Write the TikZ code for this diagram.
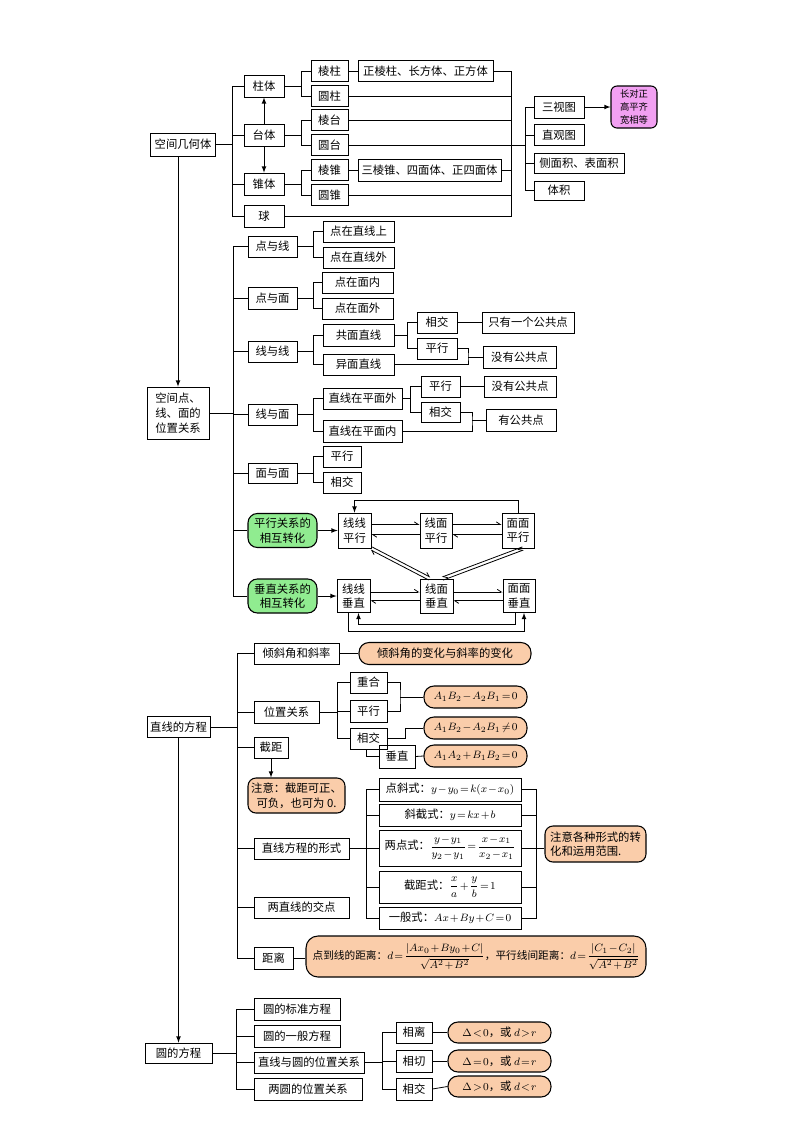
\documentclass[tikz,border=0pt]{standalone}
\usepackage{amsmath}
\usepackage{fontspec}
\setmainfont{Noto Sans CJK SC}
\usetikzlibrary{arrows,arrows.meta,calc}
\definecolor{peach}{RGB}{250,205,170}
\definecolor{mint}{RGB}{144,236,144}
\definecolor{orchid}{RGB}{242,160,242}
\newdimen\ux \ux=0.75pt
\medmuskip=1.5mu plus 1mu minus 1mu
\thickmuskip=2mu plus 1mu
\tikzset{
  cell/.style  = {shape=rectangle, draw, line width=0.6pt, inner sep=1pt,
                  minimum height=21\ux, align=center,
                  font=\fontsize{8.5}{11}\selectfont},
  note/.style  = {cell, rounded corners=6pt, fill=peach, line width=0.8pt},
  oval/.style  = {note, rounded corners=7.5pt},
  trans/.style = {cell, rounded corners=7pt, fill=mint, line width=0.8pt},
  tipbox/.style= {cell, rounded corners=4.5pt, fill=orchid, line width=0.8pt,
                  font=\fontsize{7}{9.5}\selectfont},
  harp/.style  = {-{Straight Barb[harpoon,length=3pt,width=4pt]}},
}

\begin{document}
\begin{tikzpicture}[x=0.75pt, y=-0.75pt, line width=0.6pt]
\useasboundingbox (0,0) rectangle (800,1133);

% 空间几何体
\node[cell, minimum width=65\ux, minimum height=23\ux] (kj) at (183,144.5) {空间几何体};
\node[cell, minimum width=40\ux, minimum height=22\ux] (zhu) at (264,86) {柱体};
\node[cell, minimum width=40\ux, minimum height=22\ux] (tai) at (264,135) {台体};
\node[cell, minimum width=40\ux, minimum height=22\ux] (zhui) at (264,184) {锥体};
\node[cell, minimum width=40\ux, minimum height=22\ux] (qiu) at (264,216) {球};
\node[cell, minimum width=37\ux] (lz) at (329.5,71) {棱柱};
\node[cell, minimum width=37\ux] (yz) at (329.5,96) {圆柱};
\node[cell, minimum width=37\ux] (lt) at (329.5,120) {棱台};
\node[cell, minimum width=37\ux] (yt) at (329.5,145) {圆台};
\node[cell, minimum width=37\ux] (lzh) at (329.5,170) {棱锥};
\node[cell, minimum width=37\ux] (yzh) at (329.5,195) {圆锥};
\node[cell, minimum width=135\ux] (zlz) at (425.5,71) {正棱柱、长方体、正方体};
\node[cell, minimum width=143\ux, minimum height=22\ux] (slz) at (429.5,170) {三棱锥、四面体、正四面体};
\node[cell, minimum width=50\ux, minimum height=22\ux] (ssv) at (559,107) {三视图};
\node[cell, minimum width=50\ux] (zgt) at (559,135) {直观图};
\node[cell, minimum width=90\ux, minimum height=20\ux] (cmj) at (579,163) {侧面积、表面积};
\node[cell, minimum width=50\ux, minimum height=19\ux] (tj) at (559,190.5) {体积};
\node[tipbox, minimum width=46\ux, minimum height=42\ux] (sst) at (634,107) {长对正\\高平齐\\宽相等};

\draw (kj.east) -- ++(16.5,0) coordinate (b1);
\draw (zhu.west) -| (b1) |- (qiu.west);
\foreach \n in {tai,zhui} \draw (\n.west) -- (\n.west -| b1);
\draw (zhu.east) -- ++(17,0) coordinate (b2);
\draw (lz.west) -| (b2) |- (yz.west);
\draw (tai.east) -- ++(17,0) coordinate (b3);
\draw (lt.west) -| (b3) |- (yt.west);
\draw (zhui.east) -- ++(17,0) coordinate (b4);
\draw (lzh.west) -| (b4) |- (yzh.west);
\draw (lz.east) -- (lz.east -| zlz.west);
\draw (lzh.east) -- (lzh.east -| slz.west);
\coordinate (rb) at (511,0);
\draw (zlz.east) -| (rb |- qiu.east) -- (qiu.east);
\foreach \n in {yz,lt,slz,yzh} \draw (\n.east) -- (\n.east -| rb);
\coordinate (sb) at (525,0);
\draw (yt.east) -- (yt.east -| sb);
\draw (ssv.west) -| (sb |- tj.west) -- (tj.west);
\foreach \n in {zgt,cmj} \draw (\n.west) -- (\n.west -| sb);
\draw[-latex] (ssv) -- (sst);
\draw[-latex] (tai) -- (zhu);
\draw[-latex] (tai) -- (zhui);

% 空间点、线、面的位置关系
\node[cell, minimum width=62\ux, minimum height=52\ux, align=left] (kd) at (178,413) {空间点、\\线、面的\\位置关系};
\draw[-latex] (kj.south -| kd.north) -- (kd.north);
\node[cell, minimum width=49\ux] (dyx) at (272.5,246.5) {点与线};
\node[cell, minimum width=49\ux, minimum height=22\ux] (dym) at (272.5,298) {点与面};
\node[cell, minimum width=49\ux] (xyx) at (272.5,351.5) {线与线};
\node[cell, minimum width=49\ux] (xym) at (272.5,414.5) {线与面};
\node[cell, minimum width=49\ux, minimum height=20\ux] (mym) at (272.5,473) {面与面};
\node[trans, minimum width=69\ux, minimum height=34\ux] (pxzh) at (282.5,530.5) {平行关系的\\相互转化};
\node[trans, minimum width=69\ux, minimum height=34\ux] (czzh) at (282.5,596) {垂直关系的\\相互转化};

\node[cell, minimum width=71\ux] (dzs) at (358.5,231.5) {点在直线上};
\node[cell, minimum width=71\ux] (dzw) at (358.5,257.5) {点在直线外};
\node[cell, minimum width=71\ux] (dmn) at (357.5,282.5) {点在面内};
\node[cell, minimum width=71\ux] (dmw) at (357.5,308.5) {点在面外};
\node[cell, minimum width=71\ux, minimum height=22\ux] (gmzx) at (358.5,335) {共面直线};
\node[cell, minimum width=71\ux] (ymzx) at (358.5,364.5) {异面直线};
\node[cell, minimum width=79\ux] (zxw) at (362.5,398.5) {直线在平面外};
\node[cell, minimum width=79\ux, minimum height=22\ux] (zxn) at (362.5,431) {直线在平面内};
\node[cell, minimum width=38\ux] (mpx) at (342,456.5) {平行};
\node[cell, minimum width=38\ux] (mxj) at (342,482.5) {相交};

\node[cell, minimum width=40\ux] (gxj) at (437,322.5) {相交};
\node[cell, minimum width=40\ux] (gpx) at (437,348.5) {平行};
\node[cell, minimum width=92\ux] (yg1) at (528,322.5) {只有一个公共点};
\node[cell, minimum width=73\ux, minimum height=22\ux] (mg1) at (519.5,357) {没有公共点};
\node[cell, minimum width=39\ux] (wpx) at (440.5,386.5) {平行};
\node[cell, minimum width=39\ux, minimum height=20\ux] (wxj) at (440.5,412) {相交};
\node[cell, minimum width=72\ux] (mg2) at (520,386.5) {没有公共点};
\node[cell, minimum width=70\ux, minimum height=22\ux] (ygg) at (521,420) {有公共点};

\draw (kd.east) -- ++(24,0) coordinate (b5);
\draw (dyx.west) -| (b5) |- (czzh.west);
\foreach \n in {dym,xyx,xym,mym,pxzh} \draw (\n.west) -- (\n.west -| b5);
\draw (dyx.east) -- ++(16,0) coordinate (b6);
\draw (dzs.west) -| (b6) |- (dzw.west);
\draw (dym.east) -- ++(16,0) coordinate (b7);
\draw (dmn.west) -| (b7) |- (dmw.west);
\draw (xyx.east) -- ++(16,0) coordinate (b8);
\draw (gmzx.west) -| (b8) |- (ymzx.west);
\draw (xym.east) -- ++(16,0) coordinate (b9);
\draw (zxw.west) -| (b9) |- (zxn.west);
\draw (mym.east) -- ++(16,0) coordinate (b10);
\draw (mpx.west) -| (b10) |- (mxj.west);
\draw (gmzx.east) -- ++(13,0) coordinate (b11);
\draw (gxj.west) -| (b11) |- (gpx.west);
\draw (zxw.east) -- ++(8,0) coordinate (b12);
\draw (wpx.west) -| (b12) |- (wxj.west);
\draw (gxj.east) -- (gxj.east -| yg1.west);
\coordinate (m1) at (468,357);
\draw (gpx.east) -| (m1) |- (ymzx.east);
\draw (m1) -- (m1 -| mg1.west);
\draw (wpx.east) -- (wpx.east -| mg2.west);
\coordinate (m2) at (472,420);
\draw (wxj.east) -| (m2) |- (zxn.east);
\draw (m2) -- (m2 -| ygg.west);

% 平行、垂直的相互转化
\node[cell, minimum width=33\ux, minimum height=35\ux] (xxpx) at (354.5,530.5) {线线\\平行};
\node[cell, minimum width=32\ux, minimum height=35\ux] (xmpx) at (436,530.5) {线面\\平行};
\node[cell, minimum width=32\ux, minimum height=35\ux] (mmpx) at (518,530.5) {面面\\平行};
\node[cell, minimum width=33\ux, minimum height=33\ux] (xxcz) at (353.5,596) {线线\\垂直};
\node[cell, minimum width=33\ux, minimum height=34\ux] (xmcz) at (436.5,596) {线面\\垂直};
\node[cell, minimum width=32\ux, minimum height=33\ux] (mmcz) at (519,596) {面面\\垂直};

\draw[-latex] (pxzh) -- (xxpx);
\draw[-latex] (czzh) -- (xxcz);
\draw[harp] ([yshift=4.5pt]xxpx.east) -- ([yshift=4.5pt]xmpx.west);
\draw[harp] ([yshift=-3pt]xmpx.west) -- ([yshift=-3pt]xxpx.east);
\draw[harp] ([yshift=4.5pt]xmpx.east) -- ([yshift=4.5pt]mmpx.west);
\draw[harp] ([yshift=-3pt]mmpx.west) -- ([yshift=-3pt]xmpx.east);
\draw[harp] ([yshift=3pt]xxcz.east) -- ([yshift=3pt]xmcz.west);
\draw[harp] ([yshift=-3.5pt]xmcz.west) -- ([yshift=-3.5pt]xxcz.east);
\draw[harp] ([yshift=3pt]xmcz.east) -- ([yshift=3pt]mmcz.west);
\draw[harp] ([yshift=-3.5pt]mmcz.west) -- ([yshift=-3.5pt]xmcz.east);
\coordinate (d1) at ([xshift=-7\ux]xmcz.north);
\coordinate (d2) at ([xshift=6\ux]xmcz.north);
\coordinate (d3) at ([xshift=5\ux]mmpx.south);
\draw[harp] ([shift={(0.8,-1.4)}]xxpx.south east) -- ([shift={(0.8,-1.4)}]d1);
\draw[harp] ([shift={(-0.8,1.4)}]d1) -- ([shift={(-0.8,1.4)}]xxpx.south east);
\draw[harp] ([shift={(-0.6,-1.5)}]d3) -- ([shift={(-0.6,-1.5)}]d2);
\draw[harp] ([shift={(0.6,1.5)}]d2) -- ([shift={(0.6,1.5)}]d3);
\draw[-latex] (mmpx.north) -- ++(0,-12) -| (xxpx.north);
\draw[-latex] ([xshift=-4\ux]mmcz.south) -- ++(0,11) -| ([xshift=5\ux]xxcz.south);
\draw[-latex] ([xshift=-5\ux]xxcz.south) -- ++(0,18) -| ([xshift=5\ux]mmcz.south);

% 直线的方程
\node[cell, minimum width=63\ux] (zxfc) at (178.5,727) {直线的方程};
\node[cell, minimum width=85\ux] (qxj) at (296.5,653.5) {倾斜角和斜率};
\node[cell, minimum width=65\ux, minimum height=22\ux] (wzgx) at (286.5,712) {位置关系};
\node[cell, minimum width=34\ux] (jj) at (271,747.5) {截距};
\node[note, minimum width=97\ux, minimum height=35\ux] (zy) at (296.5,795.5) {注意：截距可正、\\可负，也可为 0.};
\node[cell, minimum width=95\ux] (xs) at (301.5,848.5) {直线方程的形式};
\node[cell, minimum width=95\ux] (jd) at (301.5,907.5) {两直线的交点};
\node[cell, minimum width=39\ux, minimum height=22\ux] (jl) at (273.5,958) {距离};
\node[note, rounded corners=9pt, minimum width=340\ux, minimum height=41\ux, font=\fontsize{8}{10}\selectfont] (jlgs) at (476,956.5)
  {点到线的距离：$d=\dfrac{|Ax_0+By_0+C|}{\sqrt{A^2+B^2}}$，平行线间距离：$d=\dfrac{|C_1-C_2|}{\sqrt{A^2+B^2}}$};
\node[oval, minimum width=172\ux, minimum height=22\ux] (bh) at (445,653.5) {倾斜角的变化与斜率的变化};

\node[cell, minimum width=37\ux] (ch) at (368.5,682.5) {重合};
\node[cell, minimum width=37\ux, minimum height=22\ux] (wpx2) at (368.5,711) {平行};
\node[cell, minimum width=37\ux] (wxj2) at (368.5,738.5) {相交};
\node[cell, minimum width=36\ux, minimum height=23\ux] (cz) at (397,756.5) {垂直};
\node[oval, minimum width=103\ux, minimum height=22\ux] (eq1) at (475.5,697) {$A_1B_2-A_2B_1=0$};
\node[oval, minimum width=103\ux, minimum height=22\ux] (eq2) at (475.5,728) {$A_1B_2-A_2B_1\neq0$};
\node[oval, minimum width=103\ux, minimum height=22\ux] (eq3) at (475.5,756) {$A_1A_2+B_1B_2=0$};

\node[cell, minimum width=142\ux, minimum height=23\ux] (dxs) at (450,789.5) {点斜式：$y-y_0=k(x-x_0)$};
\node[cell, minimum width=142\ux, minimum height=22\ux] (xjs) at (450,815) {斜截式：$y=kx+b$};
\node[cell, minimum width=142\ux, minimum height=36\ux] (ldsh) at (450,848) {两点式：$\dfrac{y-y_1}{y_2-y_1}=\dfrac{x-x_1}{x_2-x_1}$};
\node[cell, minimum width=142\ux, minimum height=32\ux] (jjs) at (450,887) {截距式：$\dfrac{x}{a}+\dfrac{y}{b}=1$};
\node[cell, minimum width=142\ux, minimum height=22\ux] (ybs) at (450,918) {一般式：$Ax+By+C=0$};
\node[note, minimum width=101\ux, minimum height=36\ux, align=left] (zyg) at (595.5,844) {注意各种形式的转\\化和运用范围.};

\draw (zxfc.east) -- ++(26.5,0) coordinate (b13);
\draw (qxj.west) -| (b13) |- (jl.west);
\foreach \n in {wzgx,jj,xs,jd} \draw (\n.west) -- (\n.west -| b13);
\draw[-latex] (jj) -- (jj |- zy.north);
\draw (qxj.east) -- (qxj.east -| bh.west);
\draw (jl.east) -- (jl.east -| jlgs.west);
\draw (wzgx.east) -- ++(18,0) coordinate (b14);
\draw (ch.west) -| (b14) |- (wxj2.west);
\draw (wpx2.west) -- (wpx2.west -| b14);
\coordinate (m3) at (400,697);
\draw (ch.east) -| (m3) |- (wpx2.east);
\draw (m3) -- (m3 -| eq1.west);
\draw (wxj2.east) -- ++(18,0) |- (eq2.west);
\draw ([xshift=-2\ux]wxj2.south) |- (cz.west);
\draw (cz.east) -- (eq3.west);
\draw (xs.east) -- ++(17,0) coordinate (b15);
\draw (dxs.west) -| (b15) |- (ybs.west);
\foreach \n in {xjs,ldsh,jjs} \draw (\n.west) -- (\n.west -| b15);
\coordinate (b16) at (536,0);
\draw (dxs.east) -| (b16 |- ybs.east) -- (ybs.east);
\foreach \n in {xjs,jjs} \draw (\n.east) -- (\n.east -| b16);
\draw (ldsh.east) -- (ldsh.east -| zyg.west);

% 圆的方程
\node[cell, minimum width=67\ux, minimum height=20\ux] (yfc) at (178.5,1053) {圆的方程};
\draw[-latex] (zxfc) -- (yfc);
\node[cell, minimum width=86\ux, minimum height=22\ux] (bz) at (297,1009) {圆的标准方程};
\node[cell, minimum width=86\ux, minimum height=22\ux] (yb) at (297,1036) {圆的一般方程};
\node[cell, minimum width=110\ux] (zxy) at (309,1062.5) {直线与圆的位置关系};
\node[cell, minimum width=108\ux, minimum height=22\ux] (ly) at (308,1089) {两圆的位置关系};
\node[cell, minimum width=36\ux] (xl) at (414,1032.5) {相离};
\node[cell, minimum width=36\ux, minimum height=22\ux] (xq) at (414,1061) {相切};
\node[cell, minimum width=36\ux, minimum height=22\ux] (xj3) at (414,1089) {相交};
\node[oval, minimum width=103\ux] (r1) at (499.5,1032.5) {$\Delta<0$，或 $d>r$};
\node[oval, minimum width=103\ux, minimum height=22\ux] (r2) at (499.5,1061) {$\Delta=0$，或 $d=r$};
\node[oval, minimum width=103\ux] (r3) at (499.5,1086.5) {$\Delta>0$，或 $d<r$};

\draw (yfc.east) -- ++(24,0) coordinate (b17);
\draw (bz.west) -| (b17) |- (ly.west);
\foreach \n in {yb,zxy} \draw (\n.west) -- (\n.west -| b17);
\draw (zxy.east) -- ++(18,0) coordinate (b18);
\draw (xl.west) -| (b18) |- (xj3.west);
\draw (xq.west) -- (xq.west -| b18);
\draw (xl.east) -- (xl.east -| r1.west);
\draw (xq.east) -- (xq.east -| r2.west);
\draw (xj3.east) -- (r3.west);
\end{tikzpicture}
\end{document}
